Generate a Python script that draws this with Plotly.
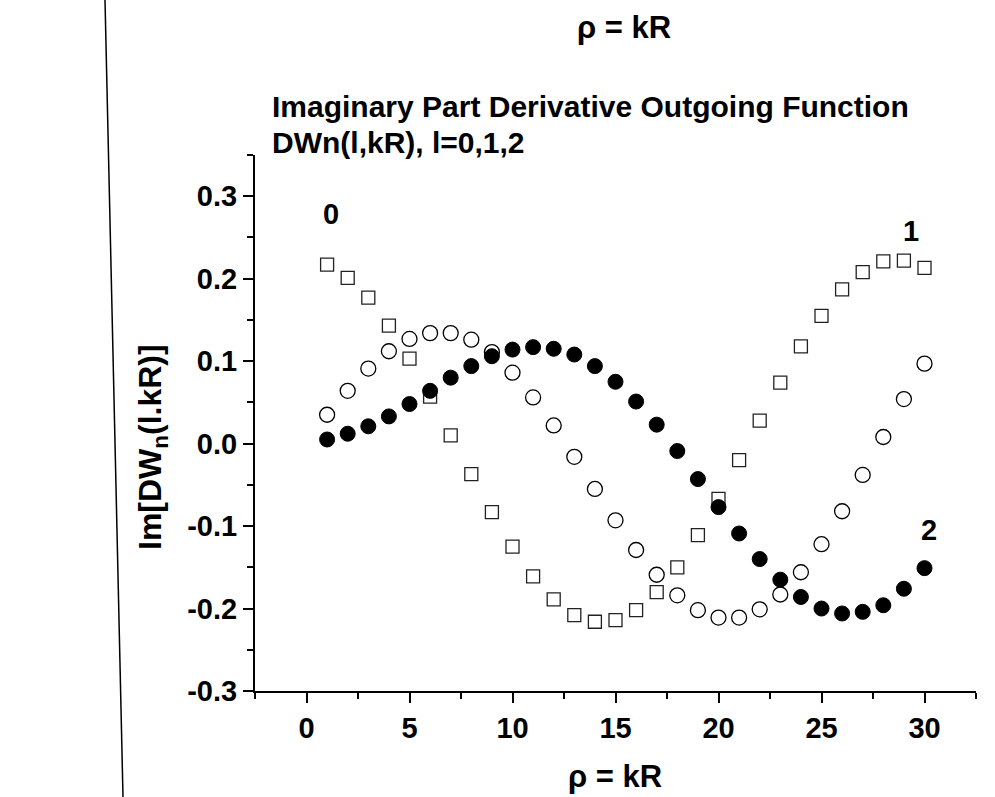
import numpy as np
import plotly.graph_objects as go

# Im[DW_n(l, kR)] sampled at rho = kR = 1..30 for l = 0, 1, 2
rho = list(range(1, 31))
im_dw_l0 = [0.217, 0.201, 0.177, 0.143, 0.103, 0.057, 0.010, -0.037, -0.083, -0.125,
            -0.161, -0.189, -0.208, -0.216, -0.214, -0.202, -0.180, -0.150, -0.111, -0.067,
            -0.020, 0.028, 0.074, 0.118, 0.155, 0.187, 0.208, 0.221, 0.222, 0.213]
im_dw_l1 = [0.035, 0.064, 0.091, 0.112, 0.127, 0.134, 0.134, 0.126, 0.111, 0.086,
            0.056, 0.022, -0.016, -0.055, -0.093, -0.129, -0.159, -0.184, -0.202, -0.211,
            -0.211, -0.201, -0.183, -0.156, -0.122, -0.082, -0.038, 0.008, 0.054, 0.097]
im_dw_l2 = [0.005, 0.012, 0.021, 0.033, 0.048, 0.064, 0.080, 0.094, 0.106, 0.114,
            0.117, 0.115, 0.108, 0.094, 0.075, 0.051, 0.023, -0.009, -0.043, -0.077,
            -0.109, -0.140, -0.165, -0.186, -0.200, -0.206, -0.204, -0.196, -0.176, -0.151]

# curve labels (text, rho, value)
curve_labels = [("0", 1.2, 0.279), ("1", 29.35, 0.258), ("2", 30.2, -0.105)]

x_tick_vals = [0, 5, 10, 15, 20, 25, 30]
x_tick_text = ["0", "5", "10", "15", "20", "25", "30"]
y_tick_vals = [-0.3, -0.2, -0.1, 0.0, 0.1, 0.2, 0.3]
y_tick_text = ["-0.3", "-0.2", "-0.1", "0.0", "0.1", "0.2", "0.3"]
x_minor_vals = list(np.arange(-2.5, 33.0, 5.0))
y_minor_vals = [round(v, 2) for v in np.arange(-0.25, 0.36, 0.1)]

# page and plot-area geometry in pixels
W, H = 995, 797
PL, PR, PT, PB = 255, 976, 155, 691


def paper_x(px):
    return (px - PL) / (PR - PL)


def paper_y(py):
    return (PB - py) / (PB - PT)


FONT = "Liberation Sans, Arial, sans-serif"
bold = lambda size: dict(family=FONT, size=size, color="black", weight="bold")

fig = go.Figure()

fig.add_trace(go.Scatter(
    x=rho, y=im_dw_l0, mode="markers", name="l=0",
    marker=dict(symbol="square", size=13, color="white",
                line=dict(color="#222", width=1.3)),
))
fig.add_trace(go.Scatter(
    x=rho, y=im_dw_l1, mode="markers", name="l=1",
    marker=dict(symbol="circle", size=15, color="white",
                line=dict(color="black", width=1.3)),
))
fig.add_trace(go.Scatter(
    x=rho, y=im_dw_l2, mode="markers", name="l=2",
    marker=dict(symbol="circle", size=15, color="black",
                line=dict(color="black", width=1)),
))

for txt, xv, yv in curve_labels:
    fig.add_annotation(x=xv, y=yv, xref="x", yref="y", text=txt, showarrow=False,
                       font=bold(29), xanchor="center", yanchor="middle")

axis_common = dict(
    showline=True, linecolor="black", linewidth=2, mirror=False,
    showgrid=False, zeroline=False, ticks="outside", ticklen=10, tickwidth=2,
    tickcolor="black", tickfont=bold(29), tickmode="array",
)

fig.update_xaxes(
    range=[-2.5, 32.5], tickvals=x_tick_vals, ticktext=x_tick_text,
    minor=dict(tickvals=x_minor_vals, ticks="outside", ticklen=6, tickwidth=2,
               tickcolor="black", showgrid=False),
    **axis_common,
)
fig.update_yaxes(
    range=[-0.3, 0.35], tickvals=y_tick_vals, ticktext=y_tick_text,
    minor=dict(tickvals=y_minor_vals, ticks="outside", ticklen=6, tickwidth=2,
               tickcolor="black", showgrid=False),
    **axis_common,
)

# title block, axis titles and the top rho label
fig.add_annotation(xref="paper", yref="paper", x=paper_x(270), y=paper_y(107),
                   text="Imaginary Part Derivative Outgoing Function", showarrow=False,
                   xanchor="left", yanchor="middle", font=bold(30))
fig.add_annotation(xref="paper", yref="paper", x=paper_x(270), y=paper_y(142),
                   text="DWn(l,kR), l=0,1,2", showarrow=False,
                   xanchor="left", yanchor="middle", font=bold(30))
fig.add_annotation(xref="paper", yref="paper", x=paper_x(615), y=paper_y(776),
                   text="ρ = kR", showarrow=False,
                   xanchor="center", yanchor="middle", font=bold(31))
fig.add_annotation(xref="paper", yref="paper", x=paper_x(624), y=paper_y(27),
                   text="ρ = kR", showarrow=False,
                   xanchor="center", yanchor="middle", font=bold(31))
fig.add_annotation(xref="paper", yref="paper", x=paper_x(152), y=paper_y(447),
                   text="Im[DW<sub>n</sub>(l.kR)]", showarrow=False, textangle=-90,
                   xanchor="center", yanchor="middle", font=bold(32))

# thin slanted border line at the left of the page
fig.add_shape(type="line", xref="paper", yref="paper",
              x0=paper_x(105), y0=paper_y(0), x1=paper_x(123), y1=paper_y(H),
              line=dict(color="black", width=1.5))

fig.update_layout(
    width=W, height=H,
    margin=dict(l=PL, r=W - PR, t=PT, b=H - PB, pad=0),
    paper_bgcolor="white", plot_bgcolor="white",
    showlegend=False,
)

fig.write_html("out.html")
